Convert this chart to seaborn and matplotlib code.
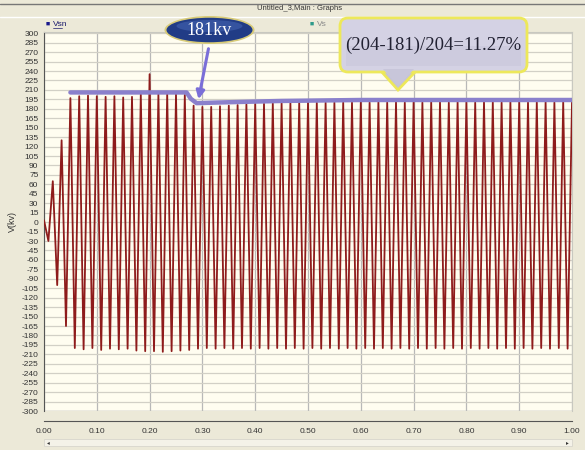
import matplotlib
matplotlib.use('Agg')
import matplotlib.pyplot as plt
import numpy as np
import seaborn as sns
from matplotlib.patches import Ellipse, FancyBboxPatch, Polygon, Rectangle, FancyArrowPatch
from matplotlib.lines import Line2D

# waveform extrema, one per half cycle (60 Hz -> 1/120 s apart), kV
v_extrema = [
    3, -30, 65, -100, 130, -165, 197, -200, 200, -202,
    201, -200, 200, -203, 199, -201, 200, -202, 198, -201,
    199, -204, 203, -205, 235, -205, 203, -206, 204, -205,
    203, -204, 202, -203, 185, -201, 183, -200, 183, -201,
    184, -200, 185, -201, 186, -200, 187, -201, 188, -200,
    188, -201, 189, -200, 189, -201, 189, -200, 190, -201,
    190, -200, 190, -201, 190, -200, 190, -201, 190, -200,
    190, -201, 191, -200, 190, -201, 191, -200, 190, -201,
    191, -200, 190, -201, 191, -200, 190, -201, 191, -200,
    191, -201, 190, -200, 191, -201, 191, -200, 190, -201,
    191, -200, 191, -201, 190, -200, 191, -201, 191, -200,
    190, -201, 191, -200, 191, -201, 190, -200, 191, -201,
    190,
]
t_extrema = np.linspace(0.0, 1.0, len(v_extrema))

# purple envelope drawn over the peaks
env_t = [0.05, 0.27, 0.278, 0.289, 0.33, 0.40, 0.45, 0.60, 1.0]
env_v = [206, 206, 196, 189, 190, 191.5, 192.5, 194, 194]

x_ticks = [0.0, 0.1, 0.2, 0.3, 0.4, 0.5, 0.6, 0.7, 0.8, 0.9, 1.0]
y_ticks = list(range(-300, 301, 15))

FIG_BG = "#ECE9D8"
PLOT_BG = "#FFFDF0"
WAVE = "#8E1B1B"
ENV = "#8A80CC"
TICK_FONT = ['Liberation Sans Narrow', 'Liberation Sans', 'DejaVu Sans']
SERIF = ['Liberation Serif', 'DejaVu Serif']

sns.set_style("white")
plt.rcParams['font.family'] = TICK_FONT

fig = plt.figure(figsize=(5.85, 4.5), dpi=100, facecolor=FIG_BG)
ax = fig.add_axes([44 / 585, 39 / 450, 528 / 585, 379 / 450])
ax.set_facecolor(PLOT_BG)
ax.spines['bottom'].set_position(('outward', 7))


def px(x, y):
    # reference pixel (from top-left) -> inches for dpi_scale_trans
    return (x / 100, (450 - y) / 100)


sns.lineplot(x=t_extrema, y=v_extrema, ax=ax, color=WAVE, linewidth=1.3, zorder=3)
sns.lineplot(x=env_t, y=env_v, ax=ax, color=ENV, linewidth=3.2, zorder=4)

ax.set_xlim(0, 1.0)
ax.set_ylim(-300, 302)
ax.set_xticks(x_ticks)
ax.set_xticklabels([f"{x:.2f}" for x in x_ticks])
ax.set_yticks(y_ticks)
ax.set_yticklabels([str(y) for y in y_ticks])
ax.grid(True, axis='y', color="#D2D0C6", linewidth=0.9)
ax.grid(True, axis='x', color="#B8B8B8", linewidth=0.9)
ax.set_axisbelow(True)

for side in ['top', 'right']:
    ax.spines[side].set_color("#C8C8C0")
    ax.spines[side].set_linewidth(0.8)
ax.spines['left'].set_color("#555555")
ax.spines['left'].set_linewidth(0.8)
ax.spines['bottom'].set_color("#555555")
ax.spines['bottom'].set_linewidth(0.8)
ax.axhline(-300, color="#B8B8B8", linewidth=1.0, zorder=1)
ax.tick_params(axis='y', direction='out', length=3, width=0.6, color="#555555", pad=1,
               labelsize=6, labelcolor="#333333")
ax.tick_params(axis='x', direction='in', length=3, width=0.6, color="#555555", pad=5,
               labelsize=6, labelcolor="#333333")

ax.set_xlabel("")
ax.set_ylabel("V(kv)", fontsize=6.5, color="#333333", labelpad=3)

# title bar
fig.text(300 / 585, 1 - 9 / 450, "Untitled_3,Main : Graphs", fontsize=5.5,
         color="#333333", ha='center', va='center')
fig.add_artist(Line2D([0, 1], [1 - 4 / 450, 1 - 4 / 450], color="#777777", linewidth=1.0))
fig.add_artist(Line2D([0, 1], [1 - 17 / 450, 1 - 17 / 450], color="#FFFFFF", linewidth=1.0))

# legend entries
fig.text(46 / 585, 1 - 24 / 450, "\u25A0", fontsize=5, color="#1A1A8C", va='center')
fig.text(53 / 585, 1 - 24 / 450, "Vsn", fontsize=6, color="#1A1A6C", va='center')
fig.add_artist(Line2D([53 / 585, 62 / 585], [1 - 28 / 450, 1 - 28 / 450],
                      color="#1A1A6C", linewidth=0.5))
fig.text(310 / 585, 1 - 24 / 450, "\u25A0", fontsize=5, color="#2E9A8A", va='center')
fig.text(317 / 585, 1 - 24 / 450, "Vs", fontsize=6, color="#8A8A8A", va='center')

# scrollbar at the bottom
fig.add_artist(Rectangle((44 / 585, 4 / 450), 528 / 585, 7 / 450,
                         facecolor="#F4F2E8", edgecolor="#D8D6CC", linewidth=0.6))
fig.text(47 / 585, 7.5 / 450, "\u25C2", fontsize=4, color="#333333", va='center')
fig.text(566 / 585, 7.5 / 450, "\u25B8", fontsize=4, color="#333333", va='center')

T = fig.dpi_scale_trans

# "181kv" ellipse callout with arrow
fig.add_artist(Ellipse(px(209.5, 30), 0.90, 0.28, facecolor="#D8CB78",
                       edgecolor="none", transform=T, zorder=6))
fig.add_artist(Ellipse(px(209.5, 30), 0.86, 0.245, facecolor="#213C86",
                       edgecolor="none", transform=T, zorder=7))
fig.add_artist(Ellipse(px(209.5, 26), 0.66, 0.12, facecolor="#4A6AB8",
                       edgecolor="none", alpha=0.5, transform=T, zorder=7))
fig.text(*px(209.5, 31), "181kv", fontsize=13, color="white", ha='center', va='center',
         family=SERIF, transform=T, zorder=8)
fig.add_artist(FancyArrowPatch(px(209, 46), px(198, 102), arrowstyle="-|>",
                               color="#7A6ED8", lw=2.2, mutation_scale=12,
                               transform=T, zorder=8))

# rounded ratio callout
fig.add_artist(Polygon([px(380, 70), px(417, 70), px(398, 90)], closed=True,
                       facecolor="#C4C2D8", edgecolor="#EDE85A", linewidth=2,
                       transform=T, zorder=6))
fig.add_artist(FancyBboxPatch(px(340, 72), 1.87, 0.54,
                              boxstyle="round,pad=0,rounding_size=0.08",
                              facecolor="#D4D2E4", edgecolor="#EDE85A", linewidth=2,
                              transform=T, zorder=7))
fig.add_artist(Polygon([px(383, 69), px(414, 69), px(398, 87)], closed=True,
                       facecolor="#C8C6DA", edgecolor="none", transform=T, zorder=8))
fig.add_artist(Rectangle(px(346, 66), 1.75, 0.2, facecolor="#C8C6DA",
                         edgecolor="none", alpha=0.5, transform=T, zorder=8))
fig.text(*px(433, 45), "(204-181)/204=11.27%", fontsize=13.5, color="#222233",
         ha='center', va='center', family=SERIF, transform=T, zorder=9)

fig.savefig("out.png", dpi=100, facecolor=FIG_BG)
